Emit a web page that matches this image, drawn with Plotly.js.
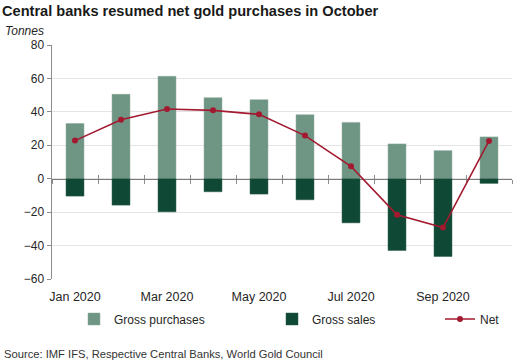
<!DOCTYPE html>
<html><head><meta charset="utf-8">
<script src="https://cdn.plot.ly/plotly-3.0.1.min.js"></script>
<style>html,body{margin:0;padding:0;background:#fff}#chart{width:515px;height:364px}</style>
</head><body><div id="chart"></div>
<script>
const months = ["Jan 2020","Feb 2020","Mar 2020","Apr 2020","May 2020","Jun 2020","Jul 2020","Aug 2020","Sep 2020","Oct 2020"];
const grossPurchases = [33, 50.5, 61.3, 48.5, 47.3, 38.3, 33.7, 20.8, 16.8, 25];
const grossSales = [-10.4, -15.8, -19.8, -7.8, -9.2, -12.6, -26.4, -42.9, -46.5, -2.8];
const net = [22.8, 35.3, 41.7, 40.9, 38.5, 25.8, 7.4, -21.6, -29.2, 22.6];
const yTicks = [-60, -40, -20, 0, 20, 40, 60, 80];

const FONT = "Arial, 'Liberation Sans', sans-serif";
const W = 515, H = 364;
const zeroPos = (0 - (-60)) / (80 - (-60));
const monthIndex = months.map((m, i) => i);

const traces = [
  {type:'bar', name:'Gross purchases', x:months, y:grossPurchases, width:0.39,
   marker:{color:'#6f9584', line:{color:'#8aa99a', width:0.5}}, legend:'legend', hoverinfo:'skip'},
  {type:'bar', name:'Gross sales', x:months, y:grossSales, width:0.39,
   marker:{color:'#0f4834', line:{color:'#2a5e4a', width:0.5}}, legend:'legend2', hoverinfo:'skip'},
  {type:'scatter', mode:'lines+markers', name:'Net', x:months, y:net,
   line:{color:'#a31a30', width:1.6}, marker:{color:'#a31a30', size:6}, legend:'legend3', hoverinfo:'skip'},
  {type:'scatter', mode:'markers', x:monthIndex, y:net, xaxis:'x2', marker:{opacity:0}, showlegend:false, hoverinfo:'skip'},
  {type:'scatter', mode:'markers', x:monthIndex, y:net, xaxis:'x3', marker:{opacity:0}, showlegend:false, hoverinfo:'skip'}
];

const tickAxis = (ticks) => ({
  type:'linear', overlaying:'x', anchor:'free', position:zeroPos, side:'bottom',
  range:[-0.5, 9.5], tickmode:'linear', tick0:0.5, dtick:1,
  showgrid:false, zeroline:false, showline:true, linecolor:'#7a7a7a', linewidth:1,
  ticks:ticks, ticklen:4, tickcolor:'#8c8c8c', tickwidth:1,
  showticklabels:false, fixedrange:true, layer:'below traces'
});

const legendBase = (px) => ({
  orientation:'h', xref:'container', yref:'container',
  x:px/W, y:1-319/H, xanchor:'left', yanchor:'middle',
  font:{family:FONT, size:12, color:'#262626'}, bgcolor:'rgba(0,0,0,0)', borderwidth:0
});

const layout = {
  width:W, height:H,
  margin:{l:52, r:3, t:45, b:85},
  paper_bgcolor:'#ffffff', plot_bgcolor:'#ffffff',
  font:{family:FONT, size:12, color:'#262626'},
  barmode:'relative', bargap:0.6,
  title:{text:'<b>Central banks resumed net gold purchases in October</b>',
         x:2/W, xanchor:'left', xref:'container', y:1-11/H, yanchor:'middle', yref:'container',
         font:{family:FONT, size:14.6, color:'#1a1a1a'}},
  xaxis:{type:'category', categoryorder:'array', categoryarray:months, range:[-0.5, 9.5],
         dtick:2, tick0:0, showgrid:false, zeroline:false, showline:false, ticks:'',
         ticklabelstandoff:8,
         tickfont:{family:FONT, size:12.5, color:'#262626'}, fixedrange:true},
  xaxis2: tickAxis('outside'),
  xaxis3: tickAxis('inside'),
  yaxis:{range:[-60, 80], tickvals:yTicks, showgrid:true, gridcolor:'#e4e4e4', gridwidth:1,
         zeroline:false, showline:true, linecolor:'#8c8c8c', linewidth:1.5,
         ticks:'outside', ticklen:4, tickcolor:'#8c8c8c',
         tickfont:{family:FONT, size:12, color:'#262626'}, fixedrange:true},
  legend: legendBase(74),
  legend2: legendBase(272),
  legend3: legendBase(440),
  showlegend:true,
  annotations:[
    {text:'<i>Tonnes</i>', xref:'paper', yref:'paper', x:0, y:1, xshift:-49, yshift:14,
     xanchor:'left', yanchor:'middle', showarrow:false, font:{family:FONT, size:12, color:'#262626'}},
    {text:'Source: IMF IFS, Respective Central Banks, World Gold Council', xref:'paper', yref:'paper',
     x:0, y:0, xshift:-50, yshift:-75, xanchor:'left', yanchor:'middle', showarrow:false,
     font:{family:FONT, size:11.2, color:'#333333'}}
  ]
};

Plotly.newPlot('chart', traces, layout, {displayModeBar:false, staticPlot:true});
</script>
</body></html>
